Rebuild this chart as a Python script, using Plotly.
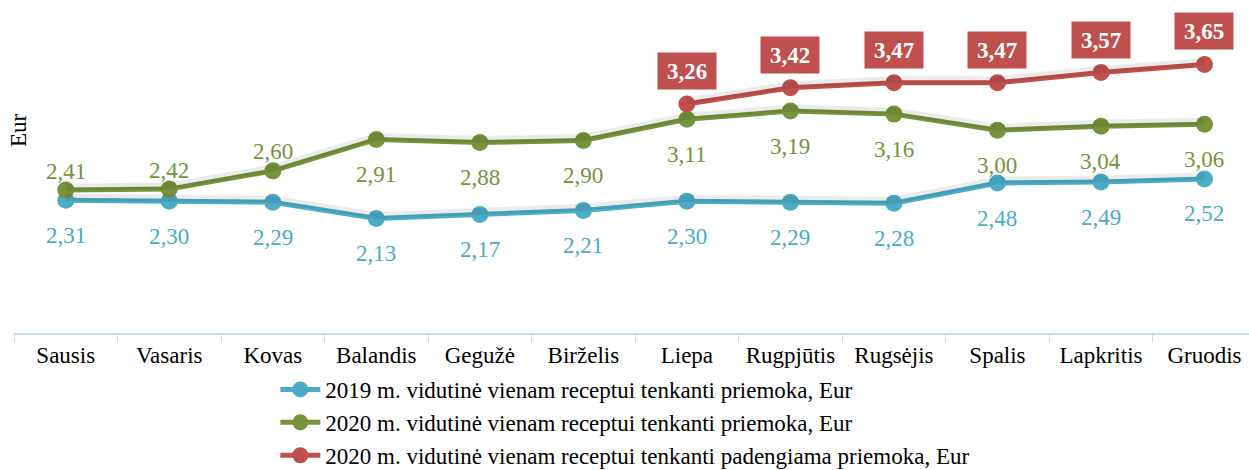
import plotly.graph_objects as go

months = ['Sausis', 'Vasaris', 'Kovas', 'Balandis', 'Gegužė', 'Birželis',
          'Liepa', 'Rugpjūtis', 'Rugsėjis', 'Spalis', 'Lapkritis', 'Gruodis']

avg_2019 = [2.31, 2.30, 2.29, 2.13, 2.17, 2.21, 2.30, 2.29, 2.28, 2.48, 2.49, 2.52]
avg_2020 = [2.41, 2.42, 2.60, 2.91, 2.88, 2.90, 3.11, 3.19, 3.16, 3.00, 3.04, 3.06]
covered_2020 = [None, None, None, None, None, None, 3.26, 3.42, 3.47, 3.47, 3.57, 3.65]

names = ['2019 m. vidutinė vienam receptui tenkanti priemoka, Eur',
         '2020 m. vidutinė vienam receptui tenkanti priemoka, Eur',
         '2020 m. vidutinė vienam receptui tenkanti padengiama priemoka, Eur']

BLUE = '#4BACC6'
GREEN = '#77933C'
RED = '#C0504D'
FONT = 'Liberation Serif, Times New Roman, serif'

def fmt(v):
    return f'{v:.2f}'.replace('.', ',')

fig = go.Figure()

# soft shadow under the lines, drawn on a slightly shifted copy of the y axis
for vals in [avg_2019, avg_2020, covered_2020]:
    fig.add_trace(go.Scatter(x=months, y=vals, mode='lines', yaxis='y2',
                             line=dict(color='rgba(0,0,0,0.08)', width=7),
                             hoverinfo='skip', showlegend=False))

for vals, name, col in zip([avg_2019, avg_2020, covered_2020], names, [BLUE, GREEN, RED]):
    fig.add_trace(go.Scatter(x=months, y=vals, mode='lines+markers', name=name,
                             legendgroup=name,
                             line=dict(color=col, width=5),
                             marker=dict(color=col, size=17)))

ann = []
for m, v in zip(months, avg_2019):
    ann.append(dict(x=m, y=v, text=fmt(v), showarrow=False, yshift=-35,
                    font=dict(family=FONT, size=23, color=BLUE)))
for i, (m, v) in enumerate(zip(months, avg_2020)):
    ann.append(dict(x=m, y=v, text=fmt(v), showarrow=False,
                    yshift=19 if i < 3 else -35,
                    font=dict(family=FONT, size=23, color=GREEN)))
for m, v in zip(months, covered_2020):
    if v is None:
        continue
    ann.append(dict(x=m, y=v, text='<b>' + fmt(v) + '</b>', showarrow=False, yshift=33,
                    bgcolor=RED, borderpad=3, width=52, height=30,
                    font=dict(family=FONT, size=23, color='white')))
ann.append(dict(xref='paper', yref='paper', x=0, y=0.668, xshift=5, xanchor='center',
                yanchor='middle', text='Eur', textangle=-90, showarrow=False,
                font=dict(family=FONT, size=23, color='black')))

fig.update_layout(
    width=1249, height=470,
    margin=dict(l=14, r=0, t=29, b=137, autoexpand=False),
    paper_bgcolor='white', plot_bgcolor='white',
    font=dict(family=FONT, size=23, color='black'),
    xaxis=dict(type='category', range=[-0.5, 11.43], showgrid=False, zeroline=False,
               showline=True, linecolor='#C9D9EE', linewidth=2, automargin=False,
               tickson='boundaries', ticks='outside', ticklen=7, tickcolor='#C9D9EE',
               tickfont=dict(family=FONT, size=23, color='black')),
    yaxis=dict(range=[1, 4], visible=False),
    yaxis2=dict(range=[0.97, 3.97], visible=False, overlaying='y'),
    legend=dict(orientation='v', x=0.495, xanchor='center',
                yref='container', y=0.217, yanchor='top',
                tracegroupgap=0, font=dict(family=FONT, size=23),
                itemwidth=40),
    annotations=ann,
    showlegend=True,
)

fig.write_html('out.html', config={'displayModeBar': False},
               post_script="document.body.style.margin='0';")
